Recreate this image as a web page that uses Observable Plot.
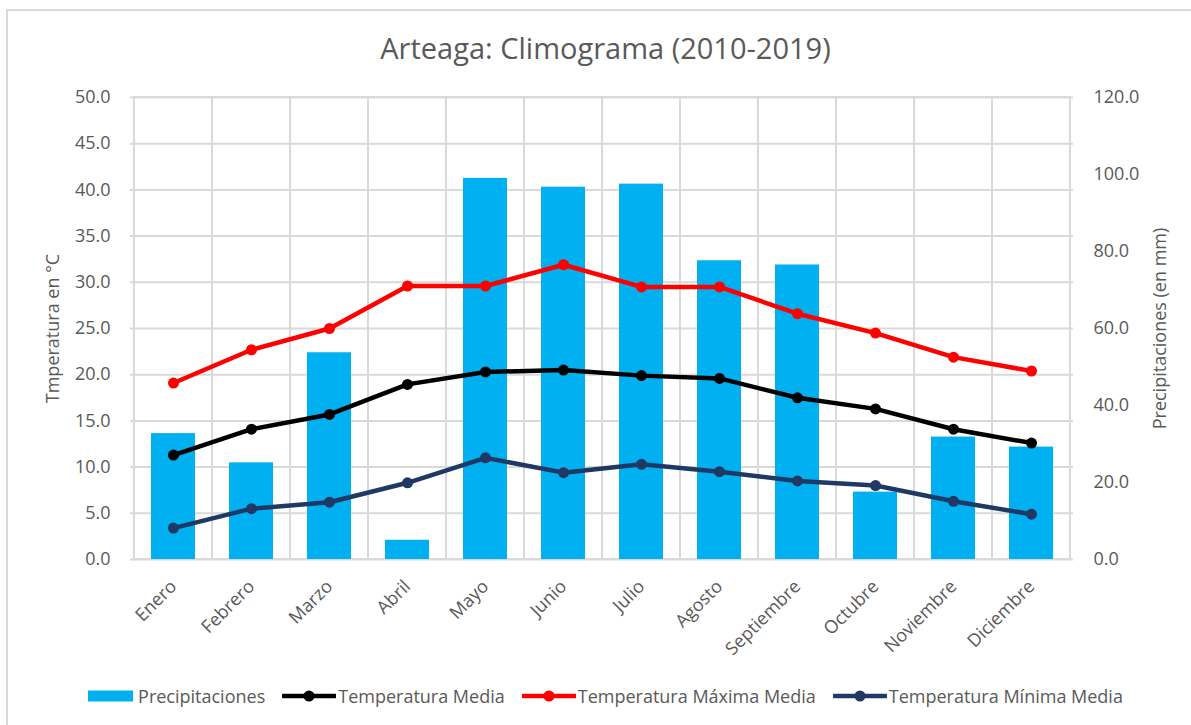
<!DOCTYPE html>
<html>
<head>
<meta charset="utf-8">
<script src="https://cdn.jsdelivr.net/npm/d3@7"></script>
<script src="https://cdn.jsdelivr.net/npm/@observablehq/plot@0.6"></script>
<style>
  html, body { margin: 0; padding: 0; background: #fff; }
  body { width: 1191px; height: 725px; overflow: hidden; position: relative; font-family: "Open Sans", sans-serif; color: #595959; }
  #frame { position: absolute; left: 6px; top: 9px; width: 1200px; height: 730px; border-left: 2px solid #d9d9d9; border-top: 2px solid #d9d9d9; box-sizing: border-box; }
  #title { position: absolute; left: 0; width: 1211px; top: 29px; text-align: center; font-size: 29px; line-height: 38px; color: #595959; }
  #chart { position: absolute; left: 0; top: 80px; }
  #legend { position: absolute; top: 684px; left: 0; width: 1226px; display: flex; justify-content: center; align-items: center; font-size: 18px; color: #595959; }
  .item { display: flex; align-items: center; margin-right: 17px; }
  .item svg { margin-right: 2px; }
</style>
</head>
<body>
<div id="frame"></div>
<div id="title">Arteaga: Climograma (2010-2019)</div>
<div id="chart"></div>
<div id="legend"></div>
<script>
const months = ["Enero","Febrero","Marzo","Abril","Mayo","Junio","Julio","Agosto","Septiembre","Octubre","Noviembre","Diciembre"];
const precipitaciones = [32.7, 25.1, 53.7, 5.0, 99.0, 96.7, 97.5, 77.6, 76.5, 17.5, 31.8, 29.2];
const tempMedia = [11.3, 14.1, 15.7, 18.95, 20.3, 20.5, 19.9, 19.6, 17.5, 16.3, 14.1, 12.6];
const tempMaxima = [19.1, 22.7, 25.0, 29.6, 29.6, 31.9, 29.5, 29.5, 26.6, 24.5, 21.9, 20.4];
const tempMinima = [3.4, 5.5, 6.2, 8.3, 11.0, 9.4, 10.3, 9.5, 8.5, 8.0, 6.3, 4.9];
const tempTicks = d3.range(0, 51, 5);
const precipTicks = d3.range(0, 121, 20);

const TMAX = 50, PMAX = 120;
const toT = p => p * TMAX / PMAX;

const rows = months.map((m, i) => ({m, p: precipitaciones[i], media: tempMedia[i], max: tempMaxima[i], min: tempMinima[i]}));

const colors = {bar: "#00B0F0", media: "#000000", max: "#FF0000", min: "#203864"};
const grid = "#d9d9d9";

const series = [
  {key: "min", color: colors.min},
  {key: "media", color: colors.media},
  {key: "max", color: colors.max}
];

const plot = Plot.plot({
  width: 1191,
  height: 590,
  marginLeft: 130,
  marginRight: 118,
  marginTop: 17,
  marginBottom: 111,
  style: {fontFamily: "Open Sans, sans-serif", fontSize: "18px", color: "#595959", background: "transparent"},
  x: {type: "band", domain: months, padding: 0},
  y: {domain: [0, TMAX]},
  marks: [
    Plot.ruleY(tempTicks, {stroke: grid, strokeWidth: 2}),
    Plot.barY(months, {x: d => d, y1: 0, y2: TMAX, fill: "none", stroke: grid, strokeWidth: 2}),
    Plot.barY(rows, {x: "m", y: d => toT(d.p), fill: colors.bar, insetLeft: 17, insetRight: 17}),
    ...series.flatMap(s => [
      Plot.line(rows, {x: "m", y: s.key, stroke: s.color, strokeWidth: 4.5, curve: "linear"}),
      Plot.dot(rows, {x: "m", y: s.key, fill: s.color, r: 5.5})
    ]),
    Plot.axisY(tempTicks, {anchor: "left", tickSize: 0, tickPadding: 20, tickFormat: d => d.toFixed(1), fontSize: 18, label: "Tmperatura en °C", labelAnchor: "center", labelOffset: 84, labelArrow: "none"}),
    Plot.axisY(precipTicks.map(toT), {anchor: "right", tickSize: 0, tickPadding: 20, tickFormat: d => (d * PMAX / TMAX).toFixed(1), fontSize: 18, label: "Precipitaciones (en mm)", labelAnchor: "center", labelOffset: 92, labelArrow: "none"}),
    Plot.axisX({tickSize: 0, tickPadding: 24, tickRotate: -45, fontSize: 18, label: null})
  ]
});
document.getElementById("chart").appendChild(plot);

// Legend
const legendItems = [
  {label: "Precipitaciones", type: "bar", color: colors.bar},
  {label: "Temperatura Media", type: "line", color: colors.media},
  {label: "Temperatura Máxima Media", type: "line", color: colors.max},
  {label: "Temperatura Mínima Media", type: "line", color: colors.min}
];
const legend = document.getElementById("legend");
for (const it of legendItems) {
  const div = document.createElement("div");
  div.className = "item";
  const ns = "http://www.w3.org/2000/svg";
  const svg = document.createElementNS(ns, "svg");
  svg.setAttribute("width", it.type === "bar" ? 50 : 54);
  svg.setAttribute("height", 16);
  if (it.type === "bar") {
    const r = document.createElementNS(ns, "rect");
    r.setAttribute("x", 2); r.setAttribute("y", 2.5); r.setAttribute("width", 45); r.setAttribute("height", 11);
    r.setAttribute("fill", it.color);
    svg.appendChild(r);
  } else {
    const l = document.createElementNS(ns, "line");
    l.setAttribute("x1", 1); l.setAttribute("x2", 53); l.setAttribute("y1", 8); l.setAttribute("y2", 8);
    l.setAttribute("stroke", it.color); l.setAttribute("stroke-width", 4.5); l.setAttribute("stroke-linecap", "round");
    const c = document.createElementNS(ns, "circle");
    c.setAttribute("cx", 27); c.setAttribute("cy", 8); c.setAttribute("r", 5.5); c.setAttribute("fill", it.color);
    svg.appendChild(l); svg.appendChild(c);
  }
  div.appendChild(svg);
  const span = document.createElement("span");
  span.textContent = it.label;
  div.appendChild(span);
  legend.appendChild(div);
}
</script>
</body>
</html>
